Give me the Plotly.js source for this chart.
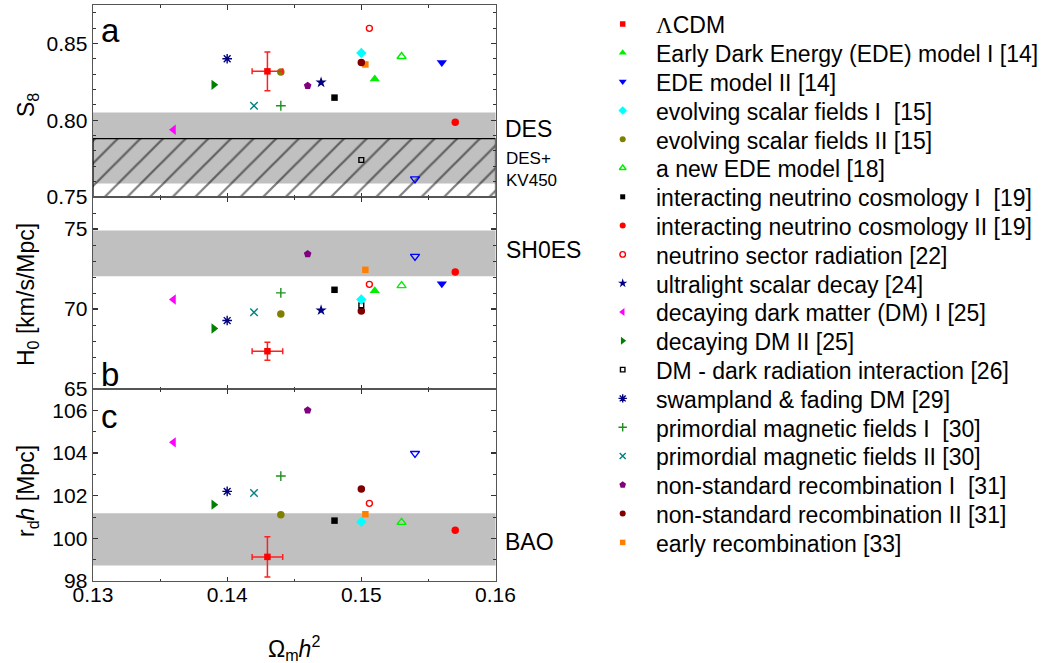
<!DOCTYPE html>
<html><head><meta charset="utf-8">
<script src="https://cdn.plot.ly/plotly-3.0.1.min.js"></script>
<style>html,body{margin:0;padding:0;background:#fff}#chart{width:1046px;height:663px}</style>
</head><body><div id="chart"></div>
<script>
// ---------- data ----------
const seriesNames = [
  '<span style="font-family:Liberation Serif, Times New Roman, serif">\u039B</span>CDM',
  'Early Dark Energy (EDE) model I [14]',
  'EDE model II [14]',
  'evolving scalar fields I\u00a0 [15]',
  'evolving scalar fields II [15]',
  'a new EDE model [18]',
  'interacting neutrino cosmology I\u00a0 [19]',
  'interacting neutrino cosmology II [19]',
  'neutrino sector radiation [22]',
  'ultralight scalar decay [24]',
  'decaying dark matter (DM) I [25]',
  'decaying DM II [25]',
  'DM - dark radiation interaction [26]',
  'swampland &amp; fading DM [29]',
  'primordial magnetic fields I\u00a0 [30]',
  'primordial magnetic fields II [30]',
  'non-standard recombination I\u00a0 [31]',
  'non-standard recombination II [31]',
  'early recombination [33]',
  null  // open blue triangle, not in legend
];
const omh2 = [0.143, 0.1510, 0.1560, 0.1500, 0.1440, 0.1530, 0.1480, 0.1570, 0.1506, 0.1470,
              0.1360, 0.1390, 0.1500, 0.1400, 0.1440, 0.1420, 0.1460, 0.1500, 0.1503, 0.1540];
const s8   = [0.8318, 0.8269, 0.8376, 0.8438, 0.8314, 0.8415, 0.8147, 0.7987, 0.8598, 0.8246,
              0.7938, 0.8230, 0.7741, 0.8400, 0.8094, 0.8094, 0.8224, 0.8376, 0.8363, 0.7618];
const h0   = [67.36, 71.14, 71.58, 70.59, 69.68, 71.46, 71.20, 72.32, 71.54, 69.92,
              70.59, 68.78, 70.23, 69.28, 71.01, 69.79, 73.44, 69.87, 72.45, 73.29];
const rdh  = [99.13, null, null, 100.77, 101.11, 100.75, 100.83, 100.38, 101.64, null,
              104.50, 101.58, null, 102.20, 102.92, 102.12, 106.00, 102.31, 101.13, 103.98];
// LCDM uncertainties
const lcdmErrX = 0.00114, lcdmErrS8 = 0.0126, lcdmErrH0 = 0.56, lcdmErrRdh = 0.94;
// observational bands
const xRange = [0.13, 0.16];
const desBand = [0.7588, 0.8050];
const kvHatch = [0.70, 0.7880];
const sh0esBand = [72.05, 74.90];
const baoBand = [98.73, 101.17];

// ---------- styles ----------
const symbols = ['square','triangle-up','triangle-down','diamond','circle','triangle-up-open','square','circle',
  'circle-open','star','triangle-left','triangle-right','square-open','asterisk-open','cross-thin-open',
  'x-thin-open','pentagon','circle','square','triangle-down-open'];
const colors = ['#ff0000','#00ee00','#0000ff','#00ffff','#808000','#00ee00','#000000','#ff0000',
  '#ff0000','#000080','#ff00ff','#008000','#000000','#000080','#1f8f1f','#008080','#800080','#800000','#ff8000','#0000ff'];
const sizes = [6.5,9,9,8,7.5,8,6.5,7.5,6,8.5,9,9,4.8,8,7,7.5,8,7.5,6.5,8];
const lsizes = [5.5,7,7,6.5,6,6,5,6,5.5,7,7,7,4.5,7,6,6,7,6,5.5,6];
const openSet = new Set(['triangle-up-open','circle-open','square-open','asterisk-open','cross-thin-open','x-thin-open','triangle-down-open']);

const FONT = 'Arial, Liberation Sans, sans-serif';
const L = 93, W = 953, BOT = 581, H = 576;
const px = p => (p - L) / W;
const py = p => (BOT - p) / H;

const traces = [];
// hatched DES+KV450 region
traces.push({
  x: [xRange[0], xRange[1], xRange[1], xRange[0], xRange[0]],
  y: [kvHatch[0], kvHatch[0], kvHatch[1], kvHatch[1], kvHatch[0]],
  xaxis: 'x', yaxis: 'y', mode: 'lines', fill: 'toself',
  fillcolor: 'rgba(0,0,0,0)',
  fillpattern: {shape: '/', size: 16, solidity: 0.14, fgcolor: '#000', bgcolor: 'rgba(0,0,0,0)', fillmode: 'overlay'},
  line: {color: '#000', width: 1.2}, hoverinfo: 'skip', showlegend: false
});

const panels = [
  {vals: s8, xa: 'x', ya: 'y', err: lcdmErrS8},
  {vals: h0, xa: 'x2', ya: 'y2', err: lcdmErrH0},
  {vals: rdh, xa: 'x3', ya: 'y3', err: lcdmErrRdh}
];
function markerFor(i, size) {
  const open = openSet.has(symbols[i]);
  return {symbol: symbols[i], color: colors[i], size: size,
    line: open ? {color: colors[i], width: 1.4} : {width: 0}};
}
panels.forEach(p => {
  for (let i = omh2.length - 1; i >= 0; i--) {
    if (p.vals[i] === null) continue;
    const t = {x: [omh2[i]], y: [p.vals[i]], xaxis: p.xa, yaxis: p.ya, mode: 'markers',
      marker: markerFor(i, sizes[i]), showlegend: false, cliponaxis: false};
    if (i === 0) {
      t.error_x = {type: 'data', array: [lcdmErrX], color: '#ff2020', thickness: 1.5, width: 3};
      t.error_y = {type: 'data', array: [p.err], color: '#ff2020', thickness: 1.5, width: 3};
    }
    traces.push(t);
  }
});

// manual legend (row index -> y)
const annotations = [];
seriesNames.forEach((name, i) => {
  if (name === null) return;
  traces.push({x: [622.7], y: [i], xaxis: 'x4', yaxis: 'y4', mode: 'markers',
    marker: markerFor(i, lsizes[i]), showlegend: false, hoverinfo: 'skip'});
  annotations.push({xref: 'x4', yref: 'y4', x: 654, y: i + 0.05, xanchor: 'left', yanchor: 'middle',
    text: name, showarrow: false, font: {size: 23, family: FONT, color: '#000'}});
});

function ann(text, x, y, size, extra) {
  return Object.assign({xref: 'paper', yref: 'paper', x: px(x), y: py(y), text: text, showarrow: false,
    xanchor: 'center', yanchor: 'middle',
    font: {size: size, family: FONT, color: '#000'}}, extra || {});
}
annotations.push(ann('a', 99, 31, 33, {xanchor: 'left'}));
annotations.push(ann('b', 99, 374, 33, {xanchor: 'left'}));
annotations.push(ann('c', 99, 416, 33, {xanchor: 'left'}));
annotations.push(ann('DES', 503, 129, 23, {xanchor: 'left'}));
annotations.push(ann('DES+<br>KV450', 504, 169, 17, {xanchor: 'left', align: 'left'}));
annotations.push(ann('SH0ES', 504, 250, 23, {xanchor: 'left'}));
annotations.push(ann('BAO', 503, 542, 23, {xanchor: 'left'}));
annotations.push(ann('S<sub>8</sub>', 27, 105, 23, {textangle: -90}));
annotations.push(ann('H<sub>0</sub> [km/s/Mpc]', 27, 295, 23, {textangle: -90}));
annotations.push(ann('r<sub>d</sub><i>h</i> [Mpc]', 27, 491, 23, {textangle: -90}));
annotations.push(ann('\u03A9<sub>m</sub><i>h</i><sup>2</sup>', 294, 648, 23));

const shapes = [
  {type: 'rect', xref: 'x domain', yref: 'y', x0: 0, x1: 1, y0: desBand[0], y1: desBand[1], fillcolor: '#c0c0c0', line: {width: 0}, layer: 'below'},
  {type: 'rect', xref: 'x2 domain', yref: 'y2', x0: 0, x1: 1, y0: sh0esBand[0], y1: sh0esBand[1], fillcolor: '#c0c0c0', line: {width: 0}, layer: 'below'},
  {type: 'rect', xref: 'x3 domain', yref: 'y3', x0: 0, x1: 1, y0: baoBand[0], y1: baoBand[1], fillcolor: '#c0c0c0', line: {width: 0}, layer: 'below'}
];

const axBase = {showline: true, linecolor: '#555', linewidth: 1.4, mirror: 'allticks', ticks: 'inside',
  ticklen: 4.5, tickwidth: 1.2, tickcolor: '#333', showgrid: false, zeroline: false, fixedrange: true,
  tickfont: {size: 21, family: FONT, color: '#000'},
  minor: {ticks: 'inside', ticklen: 2.5, tickwidth: 1, tickcolor: '#333', showgrid: false}};
const xdom = [0, px(495.5)];
const xax = extra => Object.assign({}, axBase, {domain: xdom, range: xRange, dtick: 0.01, tick0: 0.13,
  tickformat: '.2f', minor: Object.assign({}, axBase.minor, {dtick: 0.005})}, extra);
const yax = extra => Object.assign({}, axBase, extra);

const layout = {
  width: 1046, height: 663,
  margin: {l: L, r: 0, t: 5, b: 82},
  paper_bgcolor: '#fff', plot_bgcolor: 'rgba(0,0,0,0)',
  showlegend: false,
  font: {family: FONT, size: 21, color: '#000'},
  xaxis: xax({anchor: 'y', showticklabels: false}),
  xaxis2: xax({anchor: 'y2', showticklabels: false}),
  xaxis3: xax({anchor: 'y3', showticklabels: true, ticklabelstandoff: -6}),
  yaxis: yax({domain: [2/3, 1], anchor: 'x', range: [0.75, 0.875], dtick: 0.05, tick0: 0.75, tickformat: '.2f',
    minor: Object.assign({}, axBase.minor, {dtick: 0.01})}),
  yaxis2: yax({domain: [1/3, 2/3], anchor: 'x2', range: [65, 77], dtick: 5, tick0: 65,
    minor: Object.assign({}, axBase.minor, {dtick: 1})}),
  yaxis3: yax({domain: [0, 1/3], anchor: 'x3', range: [98, 107], dtick: 2, tick0: 98,
    minor: Object.assign({}, axBase.minor, {dtick: 1})}),
  xaxis4: {domain: [px(600), 1], anchor: 'y4', range: [600, 1046], visible: false, fixedrange: true},
  yaxis4: {domain: [0, 1], anchor: 'x4', range: [(BOT - 24) / 28.8, (5 - 24) / 28.8], visible: false, fixedrange: true},
  shapes: shapes,
  annotations: annotations
};

Plotly.newPlot('chart', traces, layout, {staticPlot: true, displayModeBar: false});
</script></body></html>
